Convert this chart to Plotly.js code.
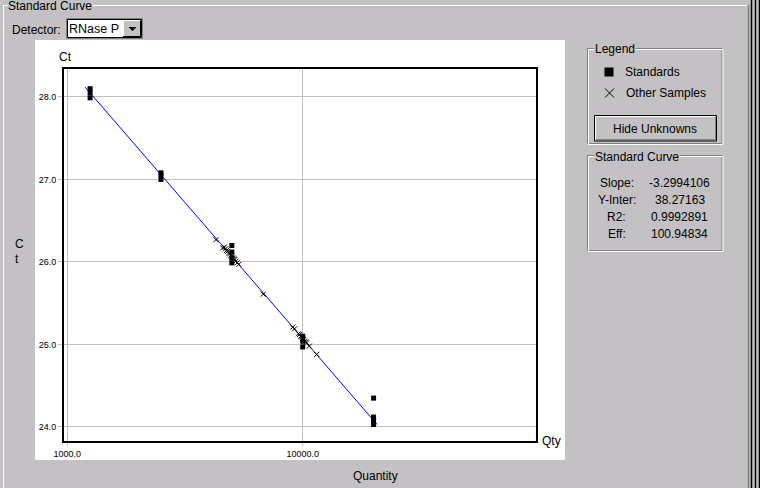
<!DOCTYPE html>
<html><head><meta charset="utf-8">
<script src="https://cdn.plot.ly/plotly-3.0.1.min.js"></script>
<style>html,body{margin:0;padding:0;background:#c3c1c3;overflow:hidden;} #chart{width:760px;height:488px;}</style>
</head><body><div id="chart"></div>
<script>
// ---- data ----
const stdQty = [1250, 1250, 1250, 2500, 2500, 2500, 5000, 5000, 5000, 5000, 10000, 10000, 10000, 20000, 20000, 20000, 20000];
const stdCt  = [28.10, 28.05, 27.99, 27.08, 27.05, 27.00, 26.20, 26.12, 26.05, 25.99, 25.10, 25.04, 24.97, 24.35, 24.12, 24.08, 24.03];
const unkQty = [4280, 4570, 4650, 4700, 4750, 4800, 4850, 4900, 4950, 5000, 5050, 5100, 5150, 5200, 5270, 5350, 6800, 9070, 9230, 9600, 9700, 9800, 9900, 10000, 10100, 10200, 10300, 10400, 10670, 11470];
const unkCt  = [26.27, 26.17, 26.18, 26.16, 26.14, 26.13, 26.11, 26.10, 26.08, 26.07, 26.05, 26.04, 26.03, 26.01, 25.99, 25.97, 25.61, 25.21, 25.19, 25.13, 25.12, 25.10, 25.09, 25.07, 25.06, 25.04, 25.03, 25.02, 24.98, 24.88];
const fitQty = [1190, 20700];
const fitCt  = [28.12, 24.03];
const xTickVals = [1000, 10000];
const xTickText = ['1000.0', '10000.0'];
const yTickVals = [24, 25, 26, 27, 28];
const yTickText = ['24.0', '25.0', '26.0', '27.0', '28.0'];
const legendLabels = ['Standards', 'Other Samples'];
const curveLabels = ['Slope:', 'Y-Inter:', 'R2:', 'Eff:'];
const curveValues = ['-3.2994106', '38.27163', '0.9992891', '100.94834'];
const detectorName = 'RNase P';

// ---- layout helpers (pixel -> paper) ----
const L = 64, R = 536, T = 69, B = 441;
const px = x => (x - L) / (R - L);
const py = y => (B - y) / (B - T);
const FONT = '"Liberation Sans", Arial, sans-serif';
const GRAY = '#c3c1c3';
const shapes = [];
const annotations = [];
function rect(x0, y0, x1, y1, fill, line, lw, layer) {
  shapes.push({type: 'rect', xref: 'paper', yref: 'paper', layer: layer || 'above',
    x0: px(x0), x1: px(x1), y0: py(y0), y1: py(y1),
    fillcolor: fill || 'rgba(0,0,0,0)', line: {color: line || 'rgba(0,0,0,0)', width: lw === undefined ? 1 : lw}});
}
function seg(x0, y0, x1, y1, color, w) {
  shapes.push({type: 'line', xref: 'paper', yref: 'paper', layer: 'above',
    x0: px(x0), x1: px(x1), y0: py(y0), y1: py(y1), line: {color: color, width: w || 1}});
}
function poly(pts, fill) {
  const d = pts.map((p, i) => (i ? 'L' : 'M') + px(p[0]) + ',' + py(p[1])).join(' ') + ' Z';
  shapes.push({type: 'path', xref: 'paper', yref: 'paper', layer: 'above', path: d,
    fillcolor: fill, line: {width: 0}});
}
function txt(x, y, text, anchor, size, bg) {
  annotations.push({xref: 'paper', yref: 'paper', x: px(x), y: py(y), text: text, showarrow: false,
    xanchor: anchor || 'left', yanchor: 'middle', font: {family: FONT, size: size || 12, color: '#000'},
    bgcolor: bg || 'rgba(0,0,0,0)', borderpad: 0});
}
function etched(x0, y0, x1, y1) {
  rect(x0, y0, x1, y1, null, '#808080', 1);
  rect(x0 + 1, y0 + 1, x1 + 1, y1 + 1, null, '#ffffff', 1);
}

// white chart panel
rect(35, 40, 565, 460, '#ffffff', 'rgba(0,0,0,0)', 0, 'below');

// outer "Standard Curve" group frame
seg(2.5, 5.5, 747.5, 5.5, '#ffffff', 1);
seg(3.5, 5, 3.5, 488, '#ffffff', 1);
seg(748.5, 5, 748.5, 488, '#808080', 1.5);
seg(751.5, 0, 751.5, 488, '#000000', 1.5);
seg(755.5, 0, 755.5, 488, '#000000', 1.5);
seg(759.5, 0, 759.5, 488, '#000000', 1.5);
txt(7, 6, 'Standard Curve', 'left', 12, GRAY);

// detector drop-down
txt(11, 30, 'Detector:', 'left', 12);
rect(66.5, 18.5, 142.5, 38.5, '#ffffff', '#808080', 1);
rect(67.5, 19.5, 141.5, 37.5, null, '#000000', 1);
txt(68, 29, detectorName, 'left', 12.5);
rect(123, 20.5, 141, 37, GRAY, null, 0);
seg(123, 20.5, 141, 20.5, '#ffffff', 1);
seg(123.5, 20.5, 123.5, 37, '#ffffff', 1);
seg(123, 36.5, 141, 36.5, '#000000', 1);
seg(140.5, 20.5, 140.5, 37, '#000000', 1);
poly([[128.5, 27], [136.5, 27], [132.5, 31]], '#000000');

// Legend box
etched(587.5, 48.5, 722, 143.5);
txt(594, 49, 'Legend', 'left', 12, GRAY);
rect(604.5, 67.5, 613.5, 76.5, '#000000', null, 0);
txt(624, 72, legendLabels[0], 'left', 12);
seg(605, 88.5, 614, 97.5, '#000000', 1);
seg(605, 97.5, 614, 88.5, '#000000', 1);
txt(625, 93, legendLabels[1], 'left', 12);
// Hide Unknowns button
rect(594.5, 115.5, 716.5, 141, GRAY, '#000000', 1);
seg(595.5, 140, 595.5, 116.5, '#ffffff', 1);
seg(595.5, 116.5, 715.5, 116.5, '#ffffff', 1);
seg(596, 139.5, 715.5, 139.5, '#808080', 1);
seg(715.5, 117, 715.5, 139.5, '#808080', 1);
txt(655, 128.5, 'Hide Unknowns', 'center', 12);

// Standard Curve stats box
etched(587.5, 155.5, 722, 250.5);
txt(594, 156.5, 'Standard Curve', 'left', 12, GRAY);
const rowY = [183, 200, 216.5, 233.5];
curveLabels.forEach((l, i) => txt(616.5, rowY[i], l, 'center', 12));
curveValues.forEach((v, i) => txt(679.5, rowY[i], v, 'center', 12));

// axis labels
txt(65, 57, 'Ct', 'center', 12);
txt(541, 441, 'Qty', 'left', 12);
txt(375, 476, 'Quantity', 'center', 12);
txt(19.5, 244, 'C', 'center', 12);
txt(17, 259, 't', 'center', 12);

const data = [
  {x: fitQty, y: fitCt, mode: 'lines', type: 'scatter', line: {color: '#0000ff', width: 1}, hoverinfo: 'skip', name: 'fit'},
  {x: unkQty, y: unkCt, mode: 'markers', type: 'scatter', name: legendLabels[1],
   marker: {symbol: 'x-thin-open', size: 5, color: '#000000', line: {color: '#000000', width: 1}}},
  {x: stdQty, y: stdCt, mode: 'markers', type: 'scatter', name: legendLabels[0],
   marker: {symbol: 'square', size: 5, color: '#000000', line: {width: 0}}}
];

const layout = {
  width: 760, height: 488,
  margin: {l: L, r: 760 - R, t: T, b: 488 - B, pad: 0},
  paper_bgcolor: GRAY, plot_bgcolor: '#ffffff',
  showlegend: false,
  font: {family: FONT, size: 9, color: '#000'},
  xaxis: {type: 'log', range: [2.986, 4.991], tickvals: xTickVals, ticktext: xTickText,
    showgrid: true, gridcolor: '#c0c0c0', gridwidth: 1, zeroline: false,
    showline: true, linecolor: '#000000', linewidth: 2, mirror: true,
    ticks: 'outside', ticklen: 3, tickcolor: '#c0c0c0', tickwidth: 1,
    tickfont: {family: FONT, size: 9, color: '#000'}},
  yaxis: {range: [23.830, 28.339], tickvals: yTickVals, ticktext: yTickText,
    showgrid: true, gridcolor: '#c0c0c0', gridwidth: 1, zeroline: false,
    showline: true, linecolor: '#000000', linewidth: 2, mirror: true,
    ticks: 'outside', ticklen: 4, tickcolor: '#c0c0c0', tickwidth: 1,
    tickfont: {family: FONT, size: 9, color: '#000'}},
  shapes: shapes,
  annotations: annotations
};
Plotly.newPlot('chart', data, layout, {displayModeBar: false, staticPlot: true});
</script></body></html>
